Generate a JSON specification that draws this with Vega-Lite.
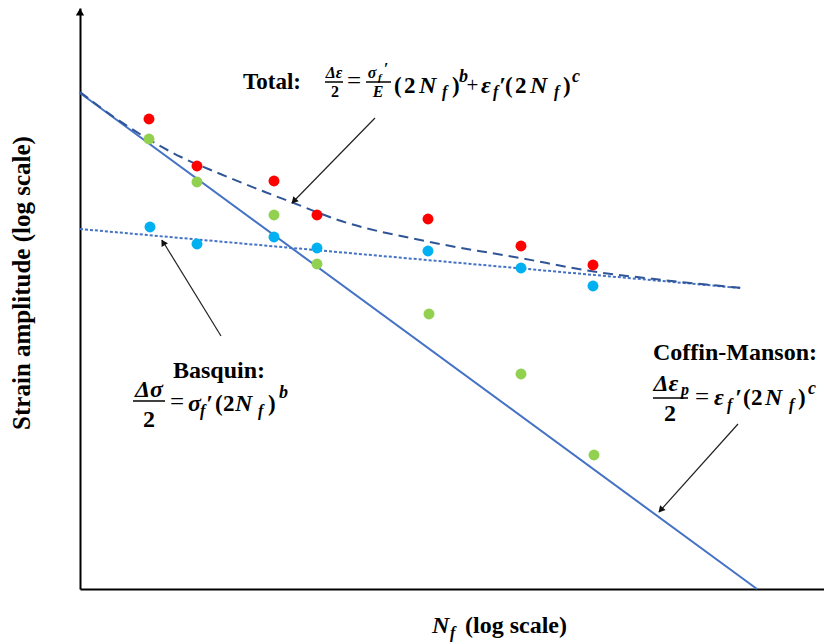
{
  "$schema": "https://vega.github.io/schema/vega-lite/v6.json",
  "width": 744,
  "height": 581,
  "autosize": {"type": "none"},
  "padding": {"left": 80, "top": 8, "right": 0, "bottom": 55},
  "background": "white",
  "config": {
    "view": {"stroke": null},
    "axis": {"domainColor": "black", "domainWidth": 2, "ticks": false, "labels": false, "grid": false, "title": null},
    "text": {"font": "Liberation Serif, Times New Roman, serif"}
  },
  "datasets": {
    "points": [
      {"series": "total", "x": 0.69, "y": 4.70}, {"series": "total", "x": 1.17, "y": 4.23}, {"series": "total", "x": 1.94, "y": 4.08}, {"series": "total", "x": 2.37, "y": 3.74}, {"series": "total", "x": 3.48, "y": 3.70}, {"series": "total", "x": 4.41, "y": 3.43}, {"series": "total", "x": 5.13, "y": 3.24},
      {"series": "plastic", "x": 0.69, "y": 4.50}, {"series": "plastic", "x": 1.17, "y": 4.07}, {"series": "plastic", "x": 1.94, "y": 3.74}, {"series": "plastic", "x": 2.37, "y": 3.25}, {"series": "plastic", "x": 3.49, "y": 2.75}, {"series": "plastic", "x": 4.41, "y": 2.15}, {"series": "plastic", "x": 5.14, "y": 1.34},
      {"series": "elastic", "x": 0.70, "y": 3.62}, {"series": "elastic", "x": 1.17, "y": 3.45}, {"series": "elastic", "x": 1.94, "y": 3.52}, {"series": "elastic", "x": 2.37, "y": 3.41}, {"series": "elastic", "x": 3.48, "y": 3.38}, {"series": "elastic", "x": 4.41, "y": 3.21}, {"series": "elastic", "x": 5.13, "y": 3.03}
    ],
    "curves": [
      {"curve": "coffin", "o": 1, "x": 0, "y": 4.96}, {"curve": "coffin", "o": 2, "x": 6.77, "y": 0},
      {"curve": "basquin", "o": 1, "x": 0, "y": 3.60}, {"curve": "basquin", "o": 2, "x": 6.60, "y": 3.01},
      {"curve": "total", "o": 1, "x": 0, "y": 4.97}, {"curve": "total", "o": 2, "x": 0.31, "y": 4.74}, {"curve": "total", "o": 3, "x": 1.01, "y": 4.32}, {"curve": "total", "o": 4, "x": 1.38, "y": 4.16}, {"curve": "total", "o": 5, "x": 1.85, "y": 3.97}, {"curve": "total", "o": 6, "x": 2.11, "y": 3.87}, {"curve": "total", "o": 7, "x": 2.58, "y": 3.69}, {"curve": "total", "o": 8, "x": 3.50, "y": 3.47}, {"curve": "total", "o": 9, "x": 4.40, "y": 3.31}, {"curve": "total", "o": 10, "x": 5.17, "y": 3.17}, {"curve": "total", "o": 11, "x": 5.83, "y": 3.09}, {"curve": "total", "o": 12, "x": 6.62, "y": 3.01}
    ],
    "arrows": [
      {"name": "total", "x": 2.95, "y": 4.71, "x2": 2.12, "y2": 3.86},
      {"name": "basquin", "x": 1.41, "y": 2.53, "x2": 0.82, "y2": 3.49},
      {"name": "coffin", "x": 6.58, "y": 1.65, "x2": 5.79, "y2": 0.77}
    ],
    "heads": [
      {"name": "total", "x": 2.138, "y": 3.879},
      {"name": "basquin", "x": 0.831, "y": 3.466},
      {"name": "coffin", "x": 5.807, "y": 0.79},
      {"name": "yaxis", "x": 0, "y": 5.77}
    ],
    "bars": [
      {"x": 0.53, "x2": 0.85, "y": 1.88},
      {"x": 5.73, "x2": 6.08, "y": 1.91},
      {"x": 2.45, "x2": 2.63, "y": 5.07},
      {"x": 2.86, "x2": 3.11, "y": 5.07}
    ],
    "texts": [
      {"kind": "bold22", "t": "Total:", "x": 1.63, "y": 5.00},
      {"kind": "bold22", "t": "(", "x": 3.14, "y": 4.96},
      {"kind": "bold22", "t": "2", "x": 3.24, "y": 4.96},
      {"kind": "bold22", "t": ")", "x": 3.72, "y": 4.96},
      {"kind": "bold22", "t": "(", "x": 4.25, "y": 4.96},
      {"kind": "bold22", "t": "2", "x": 4.35, "y": 4.96},
      {"kind": "bold22", "t": ")", "x": 4.83, "y": 4.96},
      {"kind": "bold24", "t": "Basquin:", "x": 0.93, "y": 2.11},
      {"kind": "bold22", "t": "(", "x": 1.35, "y": 1.78},
      {"kind": "bold22", "t": "2", "x": 1.43, "y": 1.78},
      {"kind": "bold22", "t": ")", "x": 1.88, "y": 1.78},
      {"kind": "bold24", "t": "Coffin-Manson:", "x": 5.73, "y": 2.29},
      {"kind": "bold22", "t": "(", "x": 6.63, "y": 1.84},
      {"kind": "bold22", "t": "2", "x": 6.71, "y": 1.84},
      {"kind": "bold22", "t": ")", "x": 7.18, "y": 1.84},
      {"kind": "it22", "t": "N", "x": 3.39, "y": 4.96},
      {"kind": "it22", "t": "ε", "x": 4.01, "y": 4.96},
      {"kind": "it22", "t": "′", "x": 4.19, "y": 4.96},
      {"kind": "it22", "t": "N", "x": 4.50, "y": 4.96},
      {"kind": "it22", "t": "σ", "x": 1.08, "y": 1.78},
      {"kind": "it22", "t": "′", "x": 1.26, "y": 1.78},
      {"kind": "it22", "t": "N", "x": 1.55, "y": 1.78},
      {"kind": "it22", "t": "ε", "x": 6.34, "y": 1.84},
      {"kind": "it22", "t": "′", "x": 6.55, "y": 1.84},
      {"kind": "it22", "t": "N", "x": 6.85, "y": 1.84},
      {"kind": "sub14", "t": "f", "x": 3.62, "y": 4.92},
      {"kind": "sub14", "t": "f", "x": 4.13, "y": 4.92},
      {"kind": "sub14", "t": "f", "x": 4.74, "y": 4.92},
      {"kind": "sub14", "t": "f", "x": 1.20, "y": 1.73},
      {"kind": "sub14", "t": "f", "x": 1.78, "y": 1.73},
      {"kind": "sub14", "t": "f", "x": 6.47, "y": 1.79},
      {"kind": "sub14", "t": "f", "x": 7.09, "y": 1.79},
      {"kind": "sub14", "t": "p", "x": 6.01, "y": 1.94},
      {"kind": "sub14", "t": "f", "x": 3.70, "y": -0.49},
      {"kind": "sub10", "t": "f", "x": 2.98, "y": 5.08},
      {"kind": "sup15", "t": "b", "x": 3.79, "y": 5.07},
      {"kind": "sup15", "t": "c", "x": 4.92, "y": 5.07},
      {"kind": "sup15", "t": "b", "x": 1.99, "y": 1.91},
      {"kind": "sup15", "t": "c", "x": 7.28, "y": 1.95},
      {"kind": "eq22", "t": "=", "x": 2.67, "y": 5.00},
      {"kind": "plus", "t": "+", "x": 3.865, "y": 4.97},
      {"kind": "eq22", "t": "=", "x": 0.90, "y": 1.79},
      {"kind": "eq22", "t": "=", "x": 6.15, "y": 1.84},
      {"kind": "itC22", "t": "Δσ", "x": 0.69, "y": 1.92},
      {"kind": "itC22", "t": "Δε", "x": 5.86, "y": 1.98},
      {"kind": "upC22", "t": "2", "x": 0.69, "y": 1.62},
      {"kind": "upC22", "t": "2", "x": 5.90, "y": 1.68},
      {"kind": "itS15", "t": "Δε", "x": 2.54, "y": 5.11},
      {"kind": "itS15", "t": "σ", "x": 2.92, "y": 5.11},
      {"kind": "itS15", "t": "E", "x": 2.98, "y": 4.92},
      {"kind": "itS15", "t": "′", "x": 3.06, "y": 5.15},
      {"kind": "upS15", "t": "2", "x": 2.55, "y": 4.92},
      {"kind": "title24", "t": "(log scale)", "x": 3.85, "y": -0.44},
      {"kind": "itT24", "t": "N", "x": 3.52, "y": -0.44},
      {"kind": "ytitle", "t": "Strain amplitude (log scale)", "x": -0.58, "y": 3.06}
    ]
  },
  "layer": [
    {
      "data": {"name": "curves"},
      "transform": [{"filter": "datum.curve === 'coffin'"}],
      "mark": {"type": "line", "color": "#4472C4", "strokeWidth": 2},
      "encoding": {
        "x": {"field": "x", "type": "quantitative", "scale": {"domain": [0, 7.44], "nice": false, "zero": false}, "axis": {"orient": "bottom"}},
        "y": {"field": "y", "type": "quantitative", "scale": {"domain": [0, 5.81], "nice": false, "zero": false}, "axis": {"orient": "left"}},
        "order": {"field": "o"}
      }
    },
    {
      "data": {"name": "curves"},
      "transform": [{"filter": "datum.curve === 'basquin'"}],
      "mark": {"type": "line", "color": "#4472C4", "strokeWidth": 2, "strokeDash": [3, 2]},
      "encoding": {
        "x": {"field": "x", "type": "quantitative"},
        "y": {"field": "y", "type": "quantitative"},
        "order": {"field": "o"}
      }
    },
    {
      "data": {"name": "curves"},
      "transform": [{"filter": "datum.curve === 'total'"}],
      "mark": {"type": "line", "color": "#2F5597", "strokeWidth": 2, "strokeDash": [10, 6], "interpolate": "monotone"},
      "encoding": {
        "x": {"field": "x", "type": "quantitative"},
        "y": {"field": "y", "type": "quantitative"},
        "order": {"field": "o"}
      }
    },
    {
      "data": {"name": "points"},
      "mark": {"type": "point", "filled": true, "size": 120, "opacity": 1},
      "encoding": {
        "x": {"field": "x", "type": "quantitative"},
        "y": {"field": "y", "type": "quantitative"},
        "color": {"field": "series", "type": "nominal", "scale": {"domain": ["total", "elastic", "plastic"], "range": ["#FF0000", "#00B0F0", "#92D050"]}, "legend": null}
      }
    },
    {
      "data": {"name": "arrows"},
      "mark": {"type": "rule", "color": "#222222", "strokeWidth": 1.2},
      "encoding": {
        "x": {"field": "x", "type": "quantitative"},
        "y": {"field": "y", "type": "quantitative"},
        "x2": {"field": "x2"},
        "y2": {"field": "y2"}
      }
    },
    {
      "data": {"name": "heads"},
      "transform": [{"filter": "datum.name === 'total'"}],
      "mark": {"type": "point", "shape": "triangle-up", "filled": true, "color": "#111111", "size": 55, "angle": 224, "opacity": 1},
      "encoding": {"x": {"field": "x", "type": "quantitative"}, "y": {"field": "y", "type": "quantitative"}}
    },
    {
      "data": {"name": "heads"},
      "transform": [{"filter": "datum.name === 'basquin'"}],
      "mark": {"type": "point", "shape": "triangle-up", "filled": true, "color": "#111111", "size": 55, "angle": 328, "opacity": 1},
      "encoding": {"x": {"field": "x", "type": "quantitative"}, "y": {"field": "y", "type": "quantitative"}}
    },
    {
      "data": {"name": "heads"},
      "transform": [{"filter": "datum.name === 'coffin'"}],
      "mark": {"type": "point", "shape": "triangle-up", "filled": true, "color": "#111111", "size": 55, "angle": 222, "opacity": 1},
      "encoding": {"x": {"field": "x", "type": "quantitative"}, "y": {"field": "y", "type": "quantitative"}}
    },
    {
      "data": {"name": "heads"},
      "transform": [{"filter": "datum.name === 'yaxis'"}],
      "mark": {"type": "point", "shape": "triangle-up", "filled": true, "color": "black", "size": 70, "angle": 0, "opacity": 1},
      "encoding": {"x": {"field": "x", "type": "quantitative"}, "y": {"field": "y", "type": "quantitative"}}
    },
    {
      "data": {"name": "bars"},
      "mark": {"type": "rule", "color": "black", "strokeWidth": 1.5},
      "encoding": {
        "x": {"field": "x", "type": "quantitative"},
        "x2": {"field": "x2"},
        "y": {"field": "y", "type": "quantitative"}
      }
    },
    {
      "data": {"name": "texts"},
      "transform": [{"filter": "datum.kind === 'bold22'"}],
      "mark": {"type": "text", "fontWeight": "bold", "fontSize": 23, "align": "left", "baseline": "alphabetic", "color": "black"},
      "encoding": {"x": {"field": "x", "type": "quantitative"}, "y": {"field": "y", "type": "quantitative"}, "text": {"field": "t"}}
    },
    {
      "data": {"name": "texts"},
      "transform": [{"filter": "datum.kind === 'bold24'"}],
      "mark": {"type": "text", "fontWeight": "bold", "fontSize": 24, "align": "left", "baseline": "alphabetic", "color": "black"},
      "encoding": {"x": {"field": "x", "type": "quantitative"}, "y": {"field": "y", "type": "quantitative"}, "text": {"field": "t"}}
    },
    {
      "data": {"name": "texts"},
      "transform": [{"filter": "datum.kind === 'it22'"}],
      "mark": {"type": "text", "fontWeight": "bold", "fontStyle": "italic", "fontSize": 24, "align": "left", "baseline": "alphabetic", "color": "black"},
      "encoding": {"x": {"field": "x", "type": "quantitative"}, "y": {"field": "y", "type": "quantitative"}, "text": {"field": "t"}}
    },
    {
      "data": {"name": "texts"},
      "transform": [{"filter": "datum.kind === 'sub14'"}],
      "mark": {"type": "text", "fontWeight": "bold", "fontStyle": "italic", "fontSize": 16, "align": "left", "baseline": "alphabetic", "color": "black"},
      "encoding": {"x": {"field": "x", "type": "quantitative"}, "y": {"field": "y", "type": "quantitative"}, "text": {"field": "t"}}
    },
    {
      "data": {"name": "texts"},
      "transform": [{"filter": "datum.kind === 'sub10'"}],
      "mark": {"type": "text", "fontWeight": "bold", "fontStyle": "italic", "fontSize": 11, "align": "left", "baseline": "alphabetic", "color": "black"},
      "encoding": {"x": {"field": "x", "type": "quantitative"}, "y": {"field": "y", "type": "quantitative"}, "text": {"field": "t"}}
    },
    {
      "data": {"name": "texts"},
      "transform": [{"filter": "datum.kind === 'sup15'"}],
      "mark": {"type": "text", "fontWeight": "bold", "fontStyle": "italic", "fontSize": 18, "align": "left", "baseline": "alphabetic", "color": "black"},
      "encoding": {"x": {"field": "x", "type": "quantitative"}, "y": {"field": "y", "type": "quantitative"}, "text": {"field": "t"}}
    },
    {
      "data": {"name": "texts"},
      "transform": [{"filter": "datum.kind === 'eq22'"}],
      "mark": {"type": "text", "fontSize": 25, "align": "left", "baseline": "alphabetic", "color": "black"},
      "encoding": {"x": {"field": "x", "type": "quantitative"}, "y": {"field": "y", "type": "quantitative"}, "text": {"field": "t"}}
    },
    {
      "data": {"name": "texts"},
      "transform": [{"filter": "datum.kind === 'plus'"}],
      "mark": {"type": "text", "fontSize": 21, "align": "left", "baseline": "alphabetic", "color": "black"},
      "encoding": {"x": {"field": "x", "type": "quantitative"}, "y": {"field": "y", "type": "quantitative"}, "text": {"field": "t"}}
    },
    {
      "data": {"name": "texts"},
      "transform": [{"filter": "datum.kind === 'itC22'"}],
      "mark": {"type": "text", "fontWeight": "bold", "fontStyle": "italic", "fontSize": 24, "align": "center", "baseline": "alphabetic", "color": "black"},
      "encoding": {"x": {"field": "x", "type": "quantitative"}, "y": {"field": "y", "type": "quantitative"}, "text": {"field": "t"}}
    },
    {
      "data": {"name": "texts"},
      "transform": [{"filter": "datum.kind === 'upC22'"}],
      "mark": {"type": "text", "fontWeight": "bold", "fontSize": 24, "align": "center", "baseline": "alphabetic", "color": "black"},
      "encoding": {"x": {"field": "x", "type": "quantitative"}, "y": {"field": "y", "type": "quantitative"}, "text": {"field": "t"}}
    },
    {
      "data": {"name": "texts"},
      "transform": [{"filter": "datum.kind === 'itS15'"}],
      "mark": {"type": "text", "fontWeight": "bold", "fontStyle": "italic", "fontSize": 16, "align": "center", "baseline": "alphabetic", "color": "black"},
      "encoding": {"x": {"field": "x", "type": "quantitative"}, "y": {"field": "y", "type": "quantitative"}, "text": {"field": "t"}}
    },
    {
      "data": {"name": "texts"},
      "transform": [{"filter": "datum.kind === 'upS15'"}],
      "mark": {"type": "text", "fontWeight": "bold", "fontSize": 16, "align": "center", "baseline": "alphabetic", "color": "black"},
      "encoding": {"x": {"field": "x", "type": "quantitative"}, "y": {"field": "y", "type": "quantitative"}, "text": {"field": "t"}}
    },
    {
      "data": {"name": "texts"},
      "transform": [{"filter": "datum.kind === 'title24'"}],
      "mark": {"type": "text", "fontWeight": "bold", "fontSize": 24, "align": "left", "baseline": "alphabetic", "color": "black"},
      "encoding": {"x": {"field": "x", "type": "quantitative"}, "y": {"field": "y", "type": "quantitative"}, "text": {"field": "t"}}
    },
    {
      "data": {"name": "texts"},
      "transform": [{"filter": "datum.kind === 'itT24'"}],
      "mark": {"type": "text", "fontWeight": "bold", "fontStyle": "italic", "fontSize": 24, "align": "left", "baseline": "alphabetic", "color": "black"},
      "encoding": {"x": {"field": "x", "type": "quantitative"}, "y": {"field": "y", "type": "quantitative"}, "text": {"field": "t"}}
    },
    {
      "data": {"name": "texts"},
      "transform": [{"filter": "datum.kind === 'ytitle'"}],
      "mark": {"type": "text", "fontWeight": "bold", "fontSize": 25, "align": "center", "baseline": "middle", "angle": 270, "color": "black"},
      "encoding": {"x": {"field": "x", "type": "quantitative"}, "y": {"field": "y", "type": "quantitative"}, "text": {"field": "t"}}
    }
  ]
}
